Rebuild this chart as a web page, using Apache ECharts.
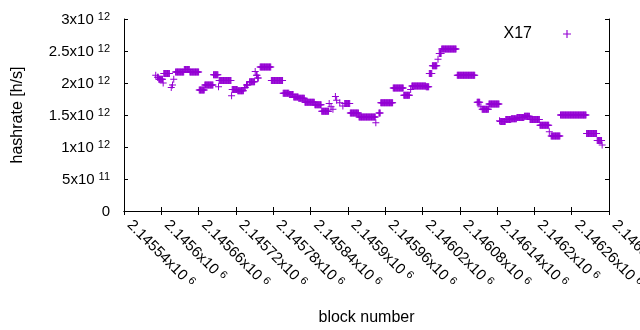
<!DOCTYPE html>
<html>
<head>
<meta charset="utf-8">
<script src="https://cdn.jsdelivr.net/npm/echarts@6/dist/echarts.min.js"></script>
<style>
  html, body { margin: 0; padding: 0; background: #fff; }
  #chart { width: 640px; height: 330px; }
</style>
</head>
<body>
<div id="chart"></div>
<script>
// runs of consecutive blocks that share one hashrate value [h/s]
const runStart = [
  2145591, 2145594, 2145596, 2145603, 2145604, 2145616, 2145618, 2145620, 2145623, 2145637,
  2145646, 2145661, 2145670, 2145684, 2145692, 2145693, 2145713, 2145714, 2145723, 2145734,
  2145737, 2145742, 2145751, 2145753, 2145755, 2145759, 2145777, 2145796, 2145806, 2145813,
  2145821, 2145831, 2145847, 2145858, 2145870, 2145873, 2145876, 2145880, 2145882, 2145887,
  2145892, 2145895, 2145904, 2145918, 2145945, 2145950, 2145953, 2145973, 2145990, 2146001,
  2146003, 2146026, 2146031, 2146036, 2146045, 2146047, 2146051, 2146076, 2146108, 2146114,
  2146116, 2146127, 2146144, 2146145, 2146154, 2146163, 2146172, 2146184, 2146193, 2146209,
  2146224, 2146227, 2146242, 2146284, 2146301, 2146309
];
const runEnd = [
  2145591, 2145595, 2145602, 2145603, 2145613, 2145616, 2145618, 2145620, 2145636, 2145645,
  2145660, 2145669, 2145683, 2145691, 2145692, 2145712, 2145713, 2145722, 2145732, 2145735,
  2145739, 2145750, 2145751, 2145754, 2145756, 2145776, 2145795, 2145805, 2145812, 2145820,
  2145830, 2145846, 2145857, 2145869, 2145870, 2145873, 2145876, 2145880, 2145882, 2145887,
  2145892, 2145903, 2145917, 2145944, 2145945, 2145952, 2145972, 2145989, 2145999, 2146001,
  2146025, 2146030, 2146035, 2146043, 2146045, 2146050, 2146074, 2146104, 2146112, 2146114,
  2146126, 2146143, 2146144, 2146153, 2146162, 2146171, 2146183, 2146192, 2146208, 2146223,
  2146224, 2146241, 2146283, 2146300, 2146308, 2146309
];
const runHashrate = [
  2.12e12, 2.09e12, 2.06e12, 2.00e12, 2.15e12, 1.93e12, 1.97e12, 2.06e12, 2.17e12, 2.21e12,
  2.17e12, 1.89e12, 1.97e12, 2.13e12, 1.94e12, 2.04e12, 1.80e12, 1.90e12, 1.88e12, 1.93e12,
  1.97e12, 2.02e12, 2.18e12, 2.12e12, 2.08e12, 2.25e12, 2.04e12, 1.84e12, 1.82e12, 1.78e12,
  1.76e12, 1.70e12, 1.66e12, 1.56e12, 1.68e12, 1.63e12, 1.59e12, 1.79e12, 1.73e12, 1.69e12,
  1.64e12, 1.68e12, 1.53e12, 1.47e12, 1.38e12, 1.53e12, 1.69e12, 1.92e12, 1.81e12, 1.90e12,
  1.955e12, 1.94e12, 2.15e12, 2.27e12, 2.37e12, 2.46e12, 2.53e12, 2.12e12, 1.70e12, 1.63e12,
  1.59e12, 1.67e12, 1.41e12, 1.40e12, 1.43e12, 1.44e12, 1.46e12, 1.48e12, 1.43e12, 1.34e12,
  1.24e12, 1.17e12, 1.50e12, 1.21e12, 1.10e12, 1.03e12
];

const xMin = 2145540;
const xMax = 2146320;
const xStep = 60;
const yMin = 0;
const yMax = 3e12;
const yStep = 0.5e12;

const font = '"Liberation Sans", Arial, sans-serif';
const plus = 'path://M0,3h7v1h-7z M3,0h1v7h-1z';

// one point per block
const points = [];
runStart.forEach((s, i) => {
  for (let b = s; b <= runEnd[i]; b++) points.push([b, runHashrate[i]]);
});

function sci(v) {
  if (v === 0) return '{m|0}';
  const e = Math.floor(Math.log10(v) + 1e-9);
  const m = parseFloat((v / Math.pow(10, e)).toPrecision(7));
  return '{m|' + m + 'x10}{e|' + e + '}';
}

const labelRich = {
  m: { fontSize: 15, fontFamily: font, color: '#000', lineHeight: 16, verticalAlign: 'bottom' },
  e: { fontSize: 11, fontFamily: font, color: '#000', lineHeight: 10, padding: [0, 0, 6, 4], verticalAlign: 'top' },
};

const chart = echarts.init(document.getElementById('chart'), null, { renderer: 'canvas' });

const axisLine = { show: true, lineStyle: { color: '#000', width: 1 } };
const axisTick = { show: true, inside: true, length: 4, lineStyle: { color: '#000' } };

chart.setOption({
  animation: false,
  backgroundColor: '#fff',
  grid: { left: 124, right: 31, top: 19, bottom: 119, containLabel: false, outerBoundsMode: 'none' },
  legend: {
    right: 64,
    top: 21,
    align: 'right',
    itemWidth: 8,
    itemHeight: 8,
    icon: plus,
    formatter: '{t|{name}}{g|}',
    textStyle: {
      rich: {
        t: { fontSize: 16, fontFamily: font, color: '#000', lineHeight: 18 },
        g: { width: 26 },
      },
    },
    data: ['X17'],
  },
  xAxis: [
    {
      type: 'value',
      min: xMin,
      max: xMax,
      interval: xStep,
      name: 'block number',
      nameLocation: 'middle',
      nameGap: 99,
      nameMoveOverlap: false,
      nameTextStyle: { fontSize: 16, fontFamily: font, color: '#000' },
      axisLine,
      axisTick,
      splitLine: { show: false },
      axisLabel: {
        formatter: sci,
        rotate: -45,
        align: 'left',
        verticalAlign: 'bottom',
        margin: 17,
        showMinLabel: true,
        showMaxLabel: true,
        rich: labelRich,
      },
    },
    {
      type: 'value',
      position: 'top',
      min: xMin,
      max: xMax,
      interval: xStep,
      axisLine,
      axisTick,
      axisLabel: { show: false },
      splitLine: { show: false },
    },
  ],
  yAxis: [
    {
      type: 'value',
      min: yMin,
      max: yMax,
      interval: yStep,
      name: 'hashrate [h/s]',
      nameLocation: 'middle',
      nameRotate: 90,
      nameGap: 98,
      nameMoveOverlap: false,
      nameTextStyle: { fontSize: 16, fontFamily: font, color: '#000' },
      axisLine,
      axisTick,
      splitLine: { show: false },
      axisLabel: { formatter: sci, margin: 14, rich: labelRich },
    },
    {
      type: 'value',
      position: 'right',
      min: yMin,
      max: yMax,
      interval: yStep,
      axisLine,
      axisTick,
      axisLabel: { show: false },
      splitLine: { show: false },
    },
  ],
  series: [
    {
      name: 'X17',
      type: 'scatter',
      xAxisIndex: 0,
      yAxisIndex: 0,
      symbol: plus,
      symbolSize: 7,
      itemStyle: { color: '#9400d3', opacity: 1 },
      data: points,
    },
  ],
});
</script>
</body>
</html>
